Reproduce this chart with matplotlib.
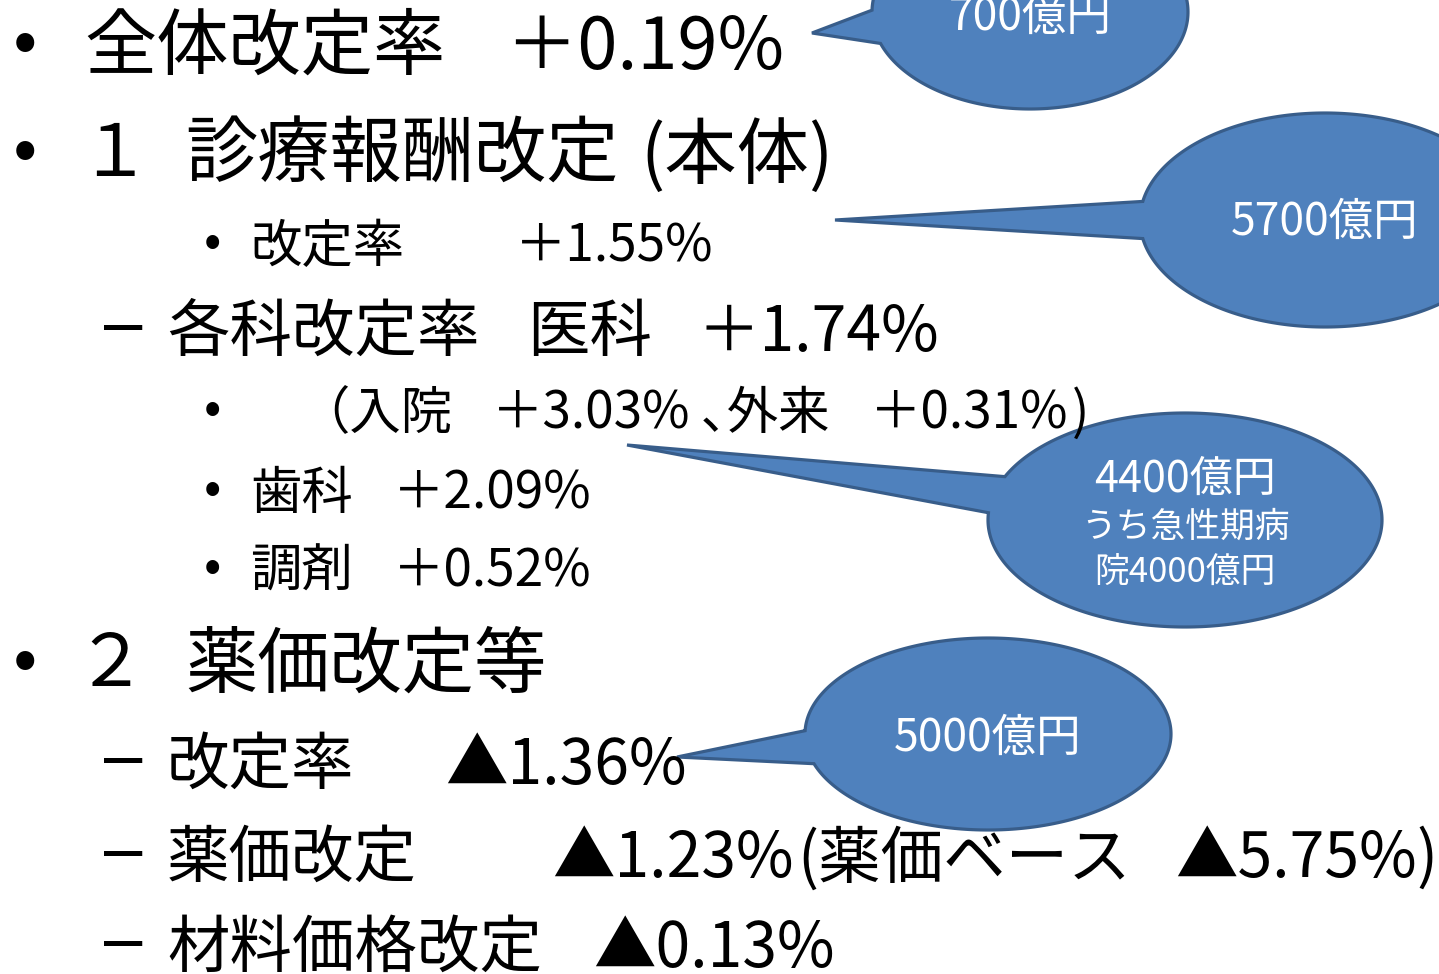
import numpy as np
import matplotlib.pyplot as plt

plt.rcParams['font.family'] = ['Noto Sans CJK JP', 'DejaVu Sans']

# slide text: one entry per line, split into pieces where the gaps are
levels = [1, 1, 3, 2, 3, 3, 3, 1, 2, 2, 2]
pieces = [
    ["全体改定率", "＋0.19%"],
    ["１", "診療報酬改定", "(本体)"],
    ["改定率", "＋1.55%"],
    ["各科改定率", "医科", "＋1.74%"],
    ["（入院", "＋3.03%", "､外来", "＋0.31%", ")"],
    ["歯科", "＋2.09%"],
    ["調剤", "＋0.52%"],
    ["２", "薬価改定等"],
    ["改定率", "▲1.36%"],
    ["薬価改定", "▲1.23%", "(薬価ベース", "▲5.75%", ")"],
    ["材料価格改定", "▲0.13%"],
]

# callout bubbles (amounts in 億円)
bubble_labels = [
    ["700億円"],
    ["5700億円"],
    ["4400億円", "うち急性期病", "院4000億円"],
    ["5000億円"],
]

# layout (pixels, y down)
line_y = [48, 156, 247, 333, 414, 494, 572, 666, 766, 859, 949]
piece_x = [
    [84, 505],
    [78, 185, 640],
    [250, 515],
    [167, 527, 698],
    [298, 492, 702, 870, 1072],
    [250, 393],
    [250, 393],
    [74, 185],
    [167, 445],
    [167, 552, 797, 1175, 1416],
    [167, 593],
]
level_size = {1: 52, 2: 45, 3: 37}
marker = {1: ("•", 25, 52), 2: ("–", 123, 62), 3: ("•", 212, 37)}

bubble_center = [(1030, 12), (1325, 220), (1185, 520), (988, 734)]
bubble_radii = [(158, 97), (185, 107), (197, 107), (183, 96)]
bubble_tip = [(812, 33), (835, 220), (627, 445), (677, 757)]
bubble_text_y = [[17], [222], [480, 527, 573], [738]]
bubble_text_size = [[32], [32], [31, 25, 25], [32]]

fill_col = "#4F81BD"
edge_col = "#385D8A"

fig = plt.figure(figsize=(14.39, 9.74), dpi=100)
ax = fig.add_axes([0, 0, 1, 1])
ax.set_xlim(0, 1439)
ax.set_ylim(974, 0)
ax.axis("off")


def callout(ax, c, r, tip, spread=10):
    # ellipse with a wedge tail pointing at tip
    cx, cy = c
    a, b = r
    t0 = np.arctan2((tip[1] - cy) / b, (tip[0] - cx) / a)
    d = np.radians(spread)
    t = np.linspace(t0 + d, t0 + 2 * np.pi - d, 300)
    xs = np.concatenate([cx + a * np.cos(t), [tip[0]]])
    ys = np.concatenate([cy + b * np.sin(t), [tip[1]]])
    ax.fill(xs, ys, facecolor=fill_col, edgecolor=edge_col, linewidth=2.3,
            joinstyle="miter", zorder=2)


for i, lines in enumerate(bubble_labels):
    callout(ax, bubble_center[i], bubble_radii[i], bubble_tip[i])
    for txt, y, s in zip(lines, bubble_text_y[i], bubble_text_size[i]):
        ax.text(bubble_center[i][0], y, txt, color="white", fontsize=s,
                ha="center", va="center", zorder=3)

for lev, segs, xs, y in zip(levels, pieces, piece_x, line_y):
    size = level_size[lev]
    sym, mx, msize = marker[lev]
    ax.text(mx, y - 5, sym, fontsize=msize, ha="center", va="center",
            color="black", zorder=4)
    for s, x in zip(segs, xs):
        ax.text(x, y, s, fontsize=size, ha="left", va="center",
                color="black", zorder=4)

fig.savefig("out.png", dpi=100)
